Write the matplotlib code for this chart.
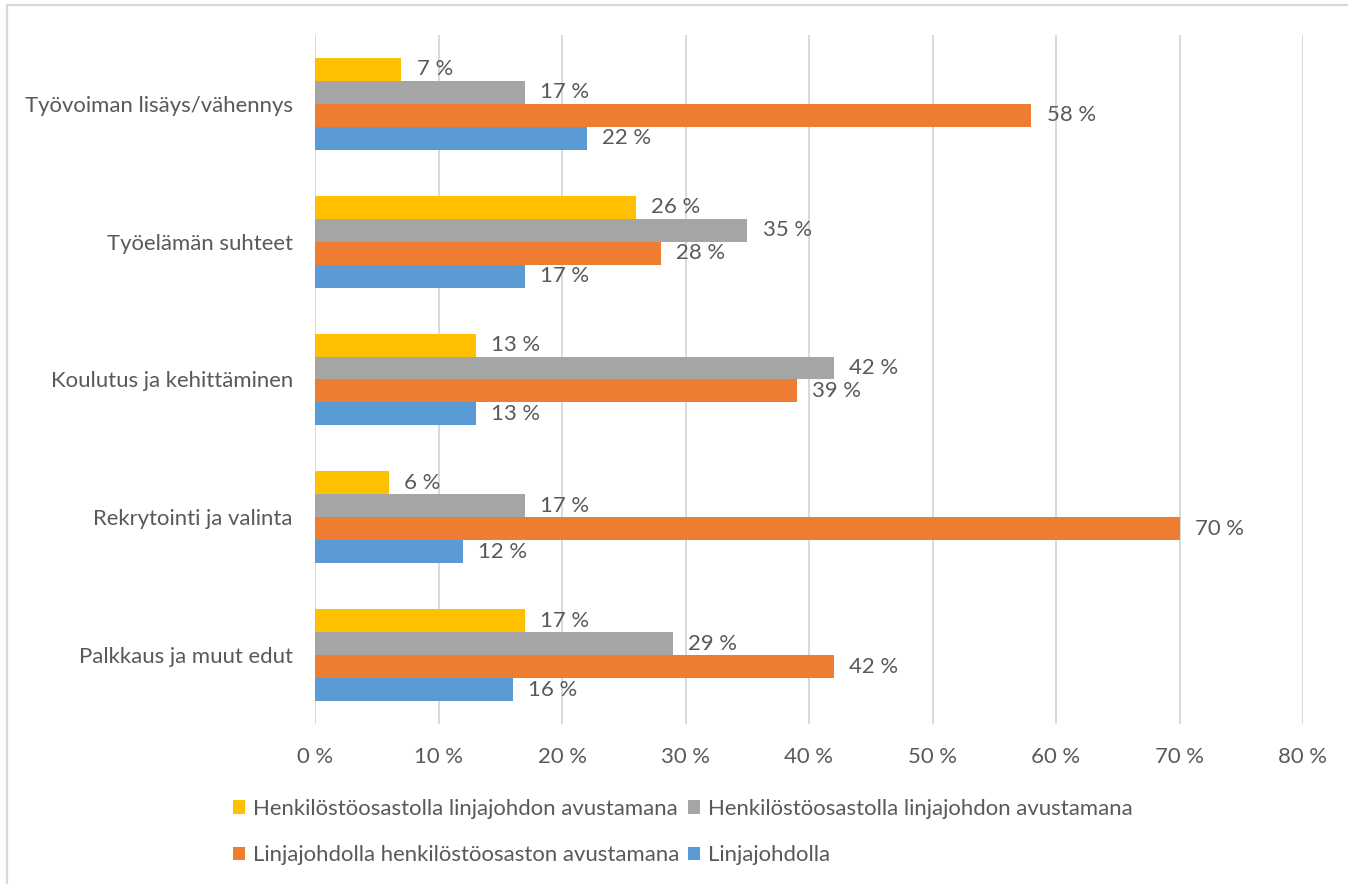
import matplotlib
matplotlib.use("Agg")
import matplotlib.pyplot as plt
from matplotlib.patches import Patch
from matplotlib.lines import Line2D
import numpy as np

# categories listed bottom to top (barh draws index 0 at the bottom)
categories = ["Palkkaus ja muut edut", "Rekrytointi ja valinta",
              "Koulutus ja kehittäminen", "Työelämän suhteet",
              "Työvoiman lisäys/vähennys"]

series_names = ["Henkilöstöosastolla linjajohdon avustamana",
                "Henkilöstöosastolla linjajohdon avustamana",
                "Linjajohdolla henkilöstöosaston avustamana",
                "Linjajohdolla"]
colors = ["#FFC000", "#A5A5A5", "#ED7D31", "#5B9BD5"]

henkilosto_a = [17, 6, 13, 26, 7]
henkilosto_b = [29, 17, 42, 35, 17]
linja_avust = [42, 70, 39, 28, 58]
linja = [16, 12, 13, 17, 22]
values = [henkilosto_a, henkilosto_b, linja_avust, linja]

xticks = [0, 10, 20, 30, 40, 50, 60, 70, 80]

text_col = "#595959"
grid_col = "#D9D9D9"
fs = 15.9
plt.rcParams['font.family'] = ['Lato', 'DejaVu Sans']

W, H = 1348, 884
fig = plt.figure(figsize=(W / 100, H / 100), dpi=100)
ax = fig.add_axes([315 / W, 1 - 724 / H, (1303 - 315) / W, (724 - 35) / H])

y = np.arange(len(categories))
h = 1 / 6
offsets = [1.5 * h, 0.5 * h, -0.5 * h, -1.5 * h]

for vals, col, off in zip(values, colors, offsets):
    bars = ax.barh(y + off, vals, height=h, color=col, zorder=3)
    for b, v in zip(bars, vals):
        ax.annotate(f"{v} %", (b.get_width(), b.get_y() + b.get_height() / 2),
                    xytext=(11, 0), textcoords="offset points",
                    ha="left", va="center", color=text_col, fontsize=fs)

ax.set_xlim(0, 80)
ax.set_ylim(-0.5, len(categories) - 0.5)
ax.set_xticks(xticks)
ax.set_xticklabels([f"{t} %" for t in xticks])
ax.set_yticks(y)
ax.set_yticklabels(categories)
ax.tick_params(axis="x", length=0, pad=16.5, colors=text_col, labelsize=fs)
ax.tick_params(axis="y", length=0, pad=16, colors=text_col, labelsize=fs)
ax.xaxis.grid(True, color=grid_col, linewidth=1.4, zorder=0)
for s in ax.spines.values():
    s.set_visible(False)

# two-column legend filled row by row
order = [0, 2, 1, 3]
handles = [Patch(facecolor=colors[i], edgecolor="none") for i in order]
labels = [series_names[i] for i in order]
leg = fig.legend(handles, labels, loc="center left",
                 bbox_to_anchor=(233 / W, 1 - 832 / H), ncol=2,
                 frameon=False, fontsize=fs, handlelength=0.55,
                 handleheight=0.55, handletextpad=0.36, columnspacing=0.4,
                 labelspacing=1.2, borderpad=0, borderaxespad=0)
for t in leg.get_texts():
    t.set_color(text_col)

# outer frame (top and left edges)
fig.add_artist(Line2D([7 / W, 1], [1 - 5 / H, 1 - 5 / H], color=grid_col, lw=1.6))
fig.add_artist(Line2D([7 / W, 7 / W], [0, 1 - 5 / H], color=grid_col, lw=1.6))

fig.savefig("out.png", dpi=100, facecolor="white")
